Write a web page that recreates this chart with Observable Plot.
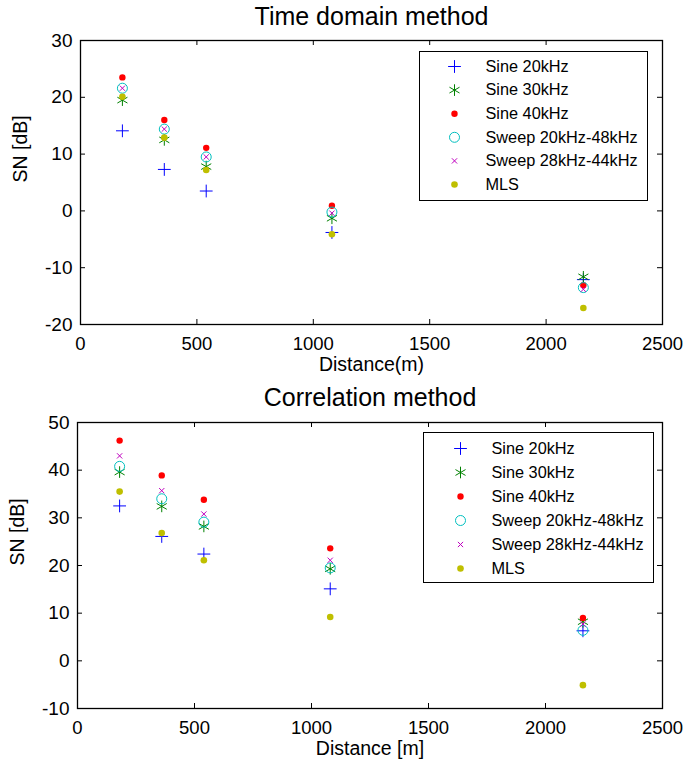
<!DOCTYPE html>
<html><head><meta charset="utf-8">
<script src="https://cdn.jsdelivr.net/npm/d3@7"></script>
<script src="https://cdn.jsdelivr.net/npm/@observablehq/plot@0.6"></script>
<style>body{margin:0;background:#fff} #c{width:689px} svg{display:block}</style>
</head><body><div id="c"></div><script>
const distances = [180, 360, 540, 1080, 2160];
const seriesNames = ["Sine 20kHz","Sine 30kHz","Sine 40kHz","Sweep 20kHz-48kHz","Sweep 28kHz-44kHz","MLS"];
// Time domain method
const timeSine20 = [14.1, 7.3, 3.5, -3.8, -12.1];
const timeSine30 = [19.5, 12.5, 7.8, -1.3, -11.6];
const timeSine40 = [23.5, 16.0, 11.1, 0.9, -13.1];
const timeSweep2048 = [21.6, 14.4, 9.5, -0.2, -13.5];
const timeSweep2844 = [21.6, 14.4, 9.5, -0.4, -13.8];
const timeMLS = [20.1, 12.9, 7.2, -4.1, -17.1];
// Correlation method
const corrSine20 = [32.5, 26.1, 22.4, 15.1, 6.3];
const corrSine30 = [39.6, 32.4, 28.2, 19.3, 8.2];
const corrSine40 = [46.2, 38.9, 33.8, 23.6, 9.0];
const corrSweep2048 = [40.8, 34.0, 29.1, 19.5, 6.4];
const corrSweep2844 = [43.0, 35.7, 30.8, 21.1, 7.7];
const corrMLS = [35.5, 26.8, 21.1, 9.2, -5.1];
// ticks
const xTicks = [0, 500, 1000, 1500, 2000, 2500];
const yTicksTime = [-20, -10, 0, 10, 20, 30];
const yTicksCorr = [-10, 0, 10, 20, 30, 40, 50];

const styles = [
  {symbol: "plus", stroke: "#0000ff", fill: "none", r: 4.2, strokeWidth: 1},
  {symbol: "asterisk", stroke: "#008000", fill: "none", r: 5.5, strokeWidth: 1},
  {symbol: "circle", fill: "#ff0000", stroke: "none", r: 3.2},
  {symbol: "circle", stroke: "#00bfbf", fill: "none", r: 5, strokeWidth: 1},
  {symbol: "times", stroke: "#bf00bf", fill: "none", r: 2.5, strokeWidth: 1},
  {symbol: "circle", fill: "#bfbf00", stroke: "none", r: 3.3}
];

const FONT = "'Liberation Sans', Arial, Helvetica, sans-serif";

function chart(cfg) {
  const W = 689;
  const plotW = W - cfg.mL - cfg.mR;
  const plotH = cfg.height - cfg.mT - cfg.mB;
  const marks = [];
  cfg.series.forEach((vals, i) => {
    const rows = distances.map((d, j) => ({d, v: vals[j]}));
    marks.push(Plot.dot(rows, {x: "d", y: "v", ...styles[i]}));
  });
  // legend
  const L = cfg.legend;
  marks.push(Plot.frame({insetLeft: L.left, insetRight: L.right, insetTop: L.top, insetBottom: plotH - L.bottom, fill: "white", stroke: "black", strokeWidth: 1}));
  seriesNames.forEach((name, i) => {
    marks.push(Plot.dot([name], {frameAnchor: "top-left", dx: L.mx, dy: L.y0 + L.dyStep * i, ...styles[i]}));
    marks.push(Plot.text([name], {frameAnchor: "top-left", lineAnchor: "middle", dx: L.tx, dy: L.y0 + L.dyStep * i, text: d => d, textAnchor: "start", fontSize: 16.3, fill: "black"}));
  });
  // frame and inward ticks
  marks.push(Plot.frame({stroke: "black", strokeWidth: 1.3}));
  marks.push(Plot.tickX(xTicks, {x: d => d, insetTop: plotH - 5, stroke: "black"}));
  marks.push(Plot.tickX(xTicks, {x: d => d, insetBottom: plotH - 5, stroke: "black"}));
  marks.push(Plot.tickY(cfg.yTicks, {y: d => d, insetRight: plotW - 5, stroke: "black"}));
  marks.push(Plot.tickY(cfg.yTicks, {y: d => d, insetLeft: plotW - 5, stroke: "black"}));
  marks.push(Plot.axisX(xTicks, {anchor: "bottom", tickSize: 0, tickPadding: 12, fontSize: 18.5, tickFormat: d => String(d), label: null}));
  marks.push(Plot.axisY(cfg.yTicks, {anchor: "left", tickSize: 0, tickPadding: 8, fontSize: 19, tickFormat: d => String(d), label: null}));
  // labels
  marks.push(Plot.text([cfg.title], {frameAnchor: "top", lineAnchor: "middle", dy: cfg.titleDy, fontSize: 25, text: d => d, fill: "black"}));
  marks.push(Plot.text([cfg.xlabel], {frameAnchor: "bottom", lineAnchor: "middle", dy: 40, fontSize: 19.5, text: d => d, fill: "black"}));
  marks.push(Plot.text(["SN [dB]"], {frameAnchor: "left", lineAnchor: "middle", dx: -60, rotate: -90, fontSize: 19.5, text: d => d, fill: "black"}));
  return Plot.plot({
    width: W, height: cfg.height,
    marginLeft: cfg.mL, marginRight: cfg.mR, marginTop: cfg.mT, marginBottom: cfg.mB,
    style: {fontFamily: FONT, background: "white", color: "black", overflow: "visible"},
    x: {domain: [0, 2500]},
    y: {domain: cfg.yDomain},
    marks
  });
}

const chartTime = chart({
  title: "Time domain method", xlabel: "Distance(m)", titleDy: -24,
  series: [timeSine20, timeSine30, timeSine40, timeSweep2048, timeSweep2844, timeMLS],
  yDomain: [-20, 30], yTicks: yTicksTime,
  height: 383, mL: 80, mR: 27, mT: 40, mB: 59,
  legend: {left: 339, right: 15, top: 11, bottom: 160, mx: 374, tx: 405, y0: 26, dyStep: 23.6}
});
const chartCorr = chart({
  title: "Correlation method", xlabel: "Distance [m]", titleDy: -25,
  series: [corrSine20, corrSine30, corrSine40, corrSweep2048, corrSweep2844, corrMLS],
  yDomain: [-10, 50], yTicks: yTicksCorr,
  height: 383, mL: 77, mR: 27, mT: 39, mB: 58,
  legend: {left: 346, right: 9, top: 10, bottom: 160, mx: 383, tx: 414, y0: 26, dyStep: 24}
});
document.getElementById("c").append(chartTime, chartCorr);
</script></body></html>
